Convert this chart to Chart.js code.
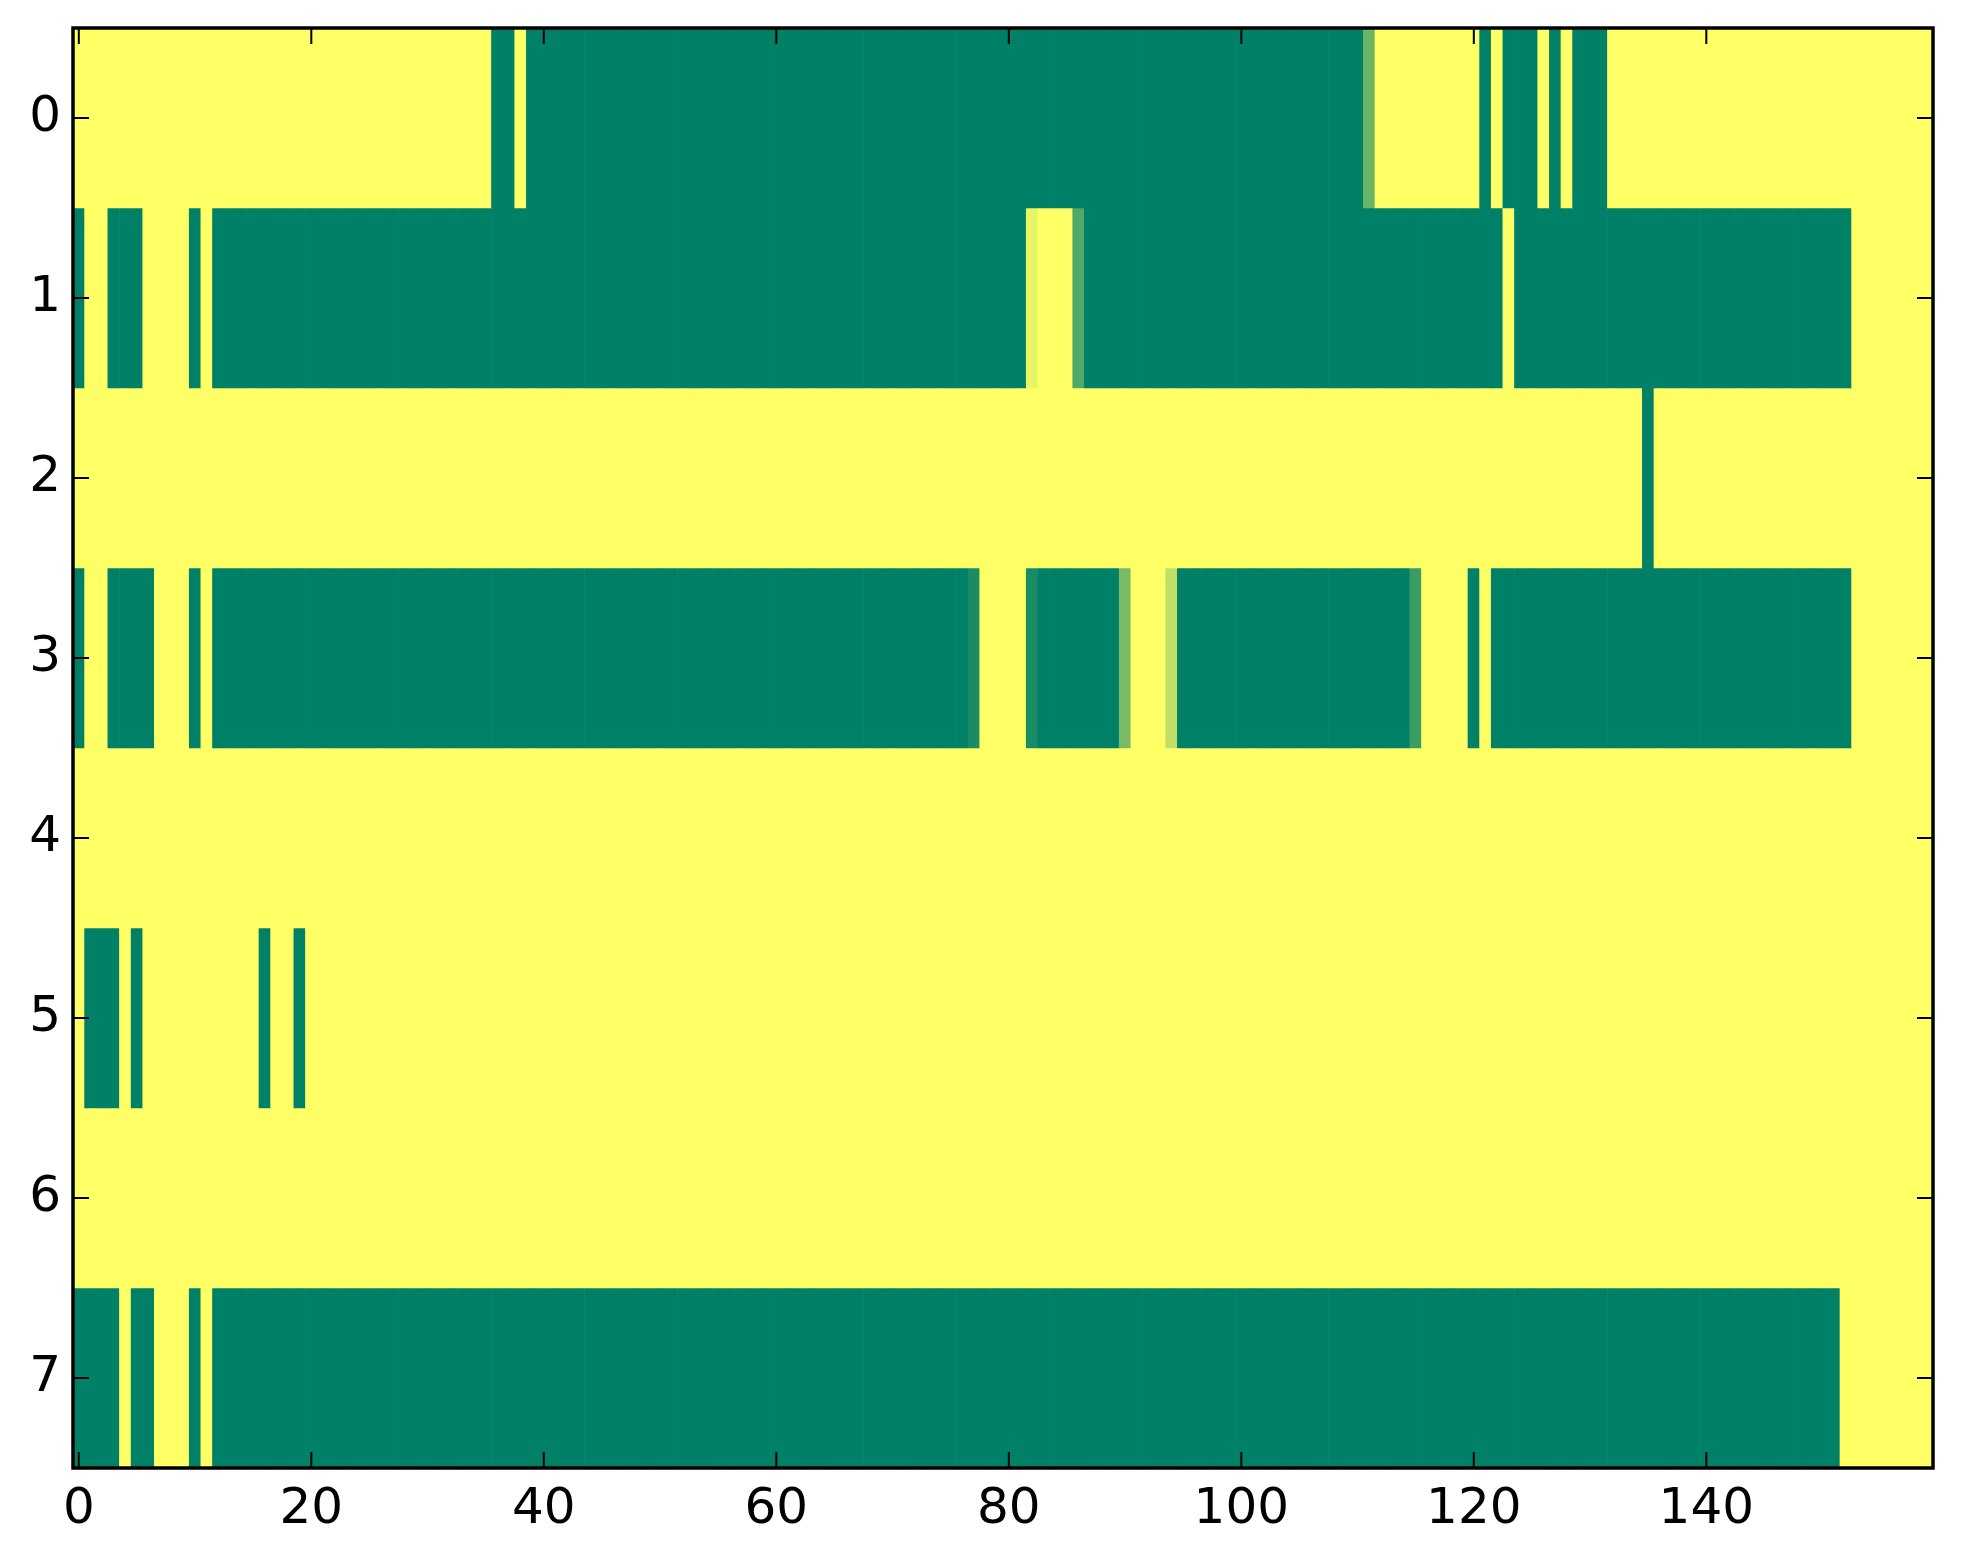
<!DOCTYPE html>
<html>
<head>
<meta charset="utf-8">
<title>Heatmap</title>
<script src="https://cdn.jsdelivr.net/npm/chart.js@4"></script>
<style>
  html, body { margin: 0; padding: 0; background: #fff; }
  canvas { display: block; }
</style>
</head>
<body>
<canvas id="chart" width="1963" height="1564"></canvas>
<script>
// cell values per row, 160 columns each (0 = yellow, 1 = green)
const row0 = [
  0,0,0,0,0,0,0,0,0,0,0,0,0,0,0,0,0,0,0,0,
  0,0,0,0,0,0,0,0,0,0,0,0,0,0,0,0,1,1,0,1,
  1,1,1,1,1,1,1,1,1,1,1,1,1,1,1,1,1,1,1,1,
  1,1,1,1,1,1,1,1,1,1,1,1,1,1,1,1,1,1,1,1,
  1,1,1,1,1,1,1,1,1,1,1,1,1,1,1,1,1,1,1,1,
  1,1,1,1,1,1,1,1,1,1,1,0.58,0,0,0,0,0,0,0,0,
  0,1,0,1,1,1,0,1,0,1,1,1,0,0,0,0,0,0,0,0,
  0,0,0,0,0,0,0,0,0,0,0,0,0,0,0,0,0,0,0,0
];
const row1 = [
  1,0,0,1,1,1,0,0,0,0,1,0,1,1,1,1,1,1,1,1,
  1,1,1,1,1,1,1,1,1,1,1,1,1,1,1,1,1,1,1,1,
  1,1,1,1,1,1,1,1,1,1,1,1,1,1,1,1,1,1,1,1,
  1,1,1,1,1,1,1,1,1,1,1,1,1,1,1,1,1,1,1,1,
  1,1,0.09,0,0,0,0.68,1,1,1,1,1,1,1,1,1,1,1,1,1,
  1,1,1,1,1,1,1,1,1,1,1,1,1,1,1,1,1,1,1,1,
  1,1,1,0,1,1,1,1,1,1,1,1,1,1,1,1,1,1,1,1,
  1,1,1,1,1,1,1,1,1,1,1,1,1,0,0,0,0,0,0,0
];
const row2 = [
  0,0,0,0,0,0,0,0,0,0,0,0,0,0,0,0,0,0,0,0,
  0,0,0,0,0,0,0,0,0,0,0,0,0,0,0,0,0,0,0,0,
  0,0,0,0,0,0,0,0,0,0,0,0,0,0,0,0,0,0,0,0,
  0,0,0,0,0,0,0,0,0,0,0,0,0,0,0,0,0,0,0,0,
  0,0,0,0,0,0,0,0,0,0,0,0,0,0,0,0,0,0,0,0,
  0,0,0,0,0,0,0,0,0,0,0,0,0,0,0,0,0,0,0,0,
  0,0,0,0,0,0,0,0,0,0,0,0,0,0,0,1,0,0,0,0,
  0,0,0,0,0,0,0,0,0,0,0,0,0,0,0,0,0,0,0,0
];
const row3 = [
  1,0,0,1,1,1,1,0,0,0,1,0,1,1,1,1,1,1,1,1,
  1,1,1,1,1,1,1,1,1,1,1,1,1,1,1,1,1,1,1,1,
  1,1,1,1,1,1,1,1,1,1,1,1,1,1,1,1,1,1,1,1,
  1,1,1,1,1,1,1,1,1,1,1,1,1,1,1,1,1,0.9,0,0,
  0,0,0.9,1,1,1,1,1,1,1,0.53,0,0,0,0.25,1,1,1,1,1,
  1,1,1,1,1,1,1,1,1,1,1,1,1,1,1,0.77,0,0,0,0,
  1,0,1,1,1,1,1,1,1,1,1,1,1,1,1,1,1,1,1,1,
  1,1,1,1,1,1,1,1,1,1,1,1,1,0,0,0,0,0,0,0
];
const row4 = [
  0,0,0,0,0,0,0,0,0,0,0,0,0,0,0,0,0,0,0,0,
  0,0,0,0,0,0,0,0,0,0,0,0,0,0,0,0,0,0,0,0,
  0,0,0,0,0,0,0,0,0,0,0,0,0,0,0,0,0,0,0,0,
  0,0,0,0,0,0,0,0,0,0,0,0,0,0,0,0,0,0,0,0,
  0,0,0,0,0,0,0,0,0,0,0,0,0,0,0,0,0,0,0,0,
  0,0,0,0,0,0,0,0,0,0,0,0,0,0,0,0,0,0,0,0,
  0,0,0,0,0,0,0,0,0,0,0,0,0,0,0,0,0,0,0,0,
  0,0,0,0,0,0,0,0,0,0,0,0,0,0,0,0,0,0,0,0
];
const row5 = [
  0,1,1,1,0,1,0,0,0,0,0,0,0,0,0,0,1,0,0,1,
  0,0,0,0,0,0,0,0,0,0,0,0,0,0,0,0,0,0,0,0,
  0,0,0,0,0,0,0,0,0,0,0,0,0,0,0,0,0,0,0,0,
  0,0,0,0,0,0,0,0,0,0,0,0,0,0,0,0,0,0,0,0,
  0,0,0,0,0,0,0,0,0,0,0,0,0,0,0,0,0,0,0,0,
  0,0,0,0,0,0,0,0,0,0,0,0,0,0,0,0,0,0,0,0,
  0,0,0,0,0,0,0,0,0,0,0,0,0,0,0,0,0,0,0,0,
  0,0,0,0,0,0,0,0,0,0,0,0,0,0,0,0,0,0,0,0
];
const row6 = [
  0,0,0,0,0,0,0,0,0,0,0,0,0,0,0,0,0,0,0,0,
  0,0,0,0,0,0,0,0,0,0,0,0,0,0,0,0,0,0,0,0,
  0,0,0,0,0,0,0,0,0,0,0,0,0,0,0,0,0,0,0,0,
  0,0,0,0,0,0,0,0,0,0,0,0,0,0,0,0,0,0,0,0,
  0,0,0,0,0,0,0,0,0,0,0,0,0,0,0,0,0,0,0,0,
  0,0,0,0,0,0,0,0,0,0,0,0,0,0,0,0,0,0,0,0,
  0,0,0,0,0,0,0,0,0,0,0,0,0,0,0,0,0,0,0,0,
  0,0,0,0,0,0,0,0,0,0,0,0,0,0,0,0,0,0,0,0
];
const row7 = [
  1,1,1,1,0,1,1,0,0,0,1,0,1,1,1,1,1,1,1,1,
  1,1,1,1,1,1,1,1,1,1,1,1,1,1,1,1,1,1,1,1,
  1,1,1,1,1,1,1,1,1,1,1,1,1,1,1,1,1,1,1,1,
  1,1,1,1,1,1,1,1,1,1,1,1,1,1,1,1,1,1,1,1,
  1,1,1,1,1,1,1,1,1,1,1,1,1,1,1,1,1,1,1,1,
  1,1,1,1,1,1,1,1,1,1,1,1,1,1,1,1,1,1,1,1,
  1,1,1,1,1,1,1,1,1,1,1,1,1,1,1,1,1,1,1,1,
  1,1,1,1,1,1,1,1,1,1,1,1,0,0,0,0,0,0,0,0
];

const rows = [row0, row1, row2, row3, row4, row5, row6, row7];
const xTickLabels = [0, 20, 40, 60, 80, 100, 120, 140];
const yTickLabels = [0, 1, 2, 3, 4, 5, 6, 7];

// matplotlib "summer_r": 0 -> #ffff66, 1 -> #008066
const summerR = (v) => {
  const r = Math.round(255 * (1 - v));
  const g = Math.round(255 * (1 - v / 2));
  return `rgb(${r},${g},102)`;
};

const columns = row0.map((_, i) => String(i));

const datasets = rows.map((values, r) => ({
  data: values.map(() => [r - 0.5, r + 0.5]),
  backgroundColor: values.map(summerR),
  borderWidth: 0,
  barPercentage: 1,
  categoryPercentage: 1,
  grouped: false,
}));

const TICK_LEN = 16;

// matplotlib-style frame with inward ticks on all four sides
const frameAndTicks = {
  id: "frameAndTicks",
  afterDatasetsDraw(chart) {
    const { ctx, chartArea: a, scales: { x, y } } = chart;
    ctx.save();
    ctx.strokeStyle = "#000";
    ctx.lineWidth = 2;
    ctx.beginPath();
    xTickLabels.forEach((v) => {
      const px = x.getPixelForValue(v);
      ctx.moveTo(px, a.bottom);
      ctx.lineTo(px, a.bottom - TICK_LEN);
      ctx.moveTo(px, a.top);
      ctx.lineTo(px, a.top + TICK_LEN);
    });
    yTickLabels.forEach((v) => {
      const py = y.getPixelForValue(v);
      ctx.moveTo(a.left, py);
      ctx.lineTo(a.left + TICK_LEN, py);
      ctx.moveTo(a.right, py);
      ctx.lineTo(a.right - TICK_LEN, py);
    });
    ctx.stroke();
    ctx.lineWidth = 3.5;
    ctx.strokeRect(a.left, a.top, a.right - a.left, a.bottom - a.top);
    ctx.restore();
  },
};

const tickFont = { family: "'DejaVu Sans'", size: 50 };

new Chart(document.getElementById("chart"), {
  type: "bar",
  data: { labels: columns, datasets: datasets },
  options: {
    responsive: false,
    animation: false,
    devicePixelRatio: 1,
    layout: { padding: { left: 0, top: 28, right: 30, bottom: 0 } },
    plugins: {
      legend: { display: false },
      tooltip: { enabled: false },
    },
    scales: {
      x: {
        type: "category",
        offset: true,
        grid: { display: false, drawTicks: false },
        border: { display: false },
        ticks: {
          autoSkip: false,
          maxRotation: 0,
          minRotation: 0,
          padding: 12,
          color: "#000",
          font: tickFont,
          callback: (v) => String(v),
        },
        afterBuildTicks: (s) => {
          s.ticks = xTickLabels.map((v) => ({ value: v }));
        },
        afterFit: (s) => {
          s.height = 96;
          s.paddingLeft = 0;
          s.paddingRight = 0;
        },
      },
      y: {
        type: "linear",
        reverse: true,
        min: -0.5,
        max: 7.5,
        grid: { display: false, drawTicks: false },
        border: { display: false },
        ticks: {
          padding: 12,
          color: "#000",
          font: tickFont,
          callback: (v) => String(v),
        },
        afterBuildTicks: (s) => {
          s.ticks = yTickLabels.map((v) => ({ value: v }));
        },
        afterFit: (s) => {
          s.width = 73;
          s.paddingTop = 0;
          s.paddingBottom = 0;
        },
      },
    },
  },
  plugins: [frameAndTicks],
});
</script>
</body>
</html>
